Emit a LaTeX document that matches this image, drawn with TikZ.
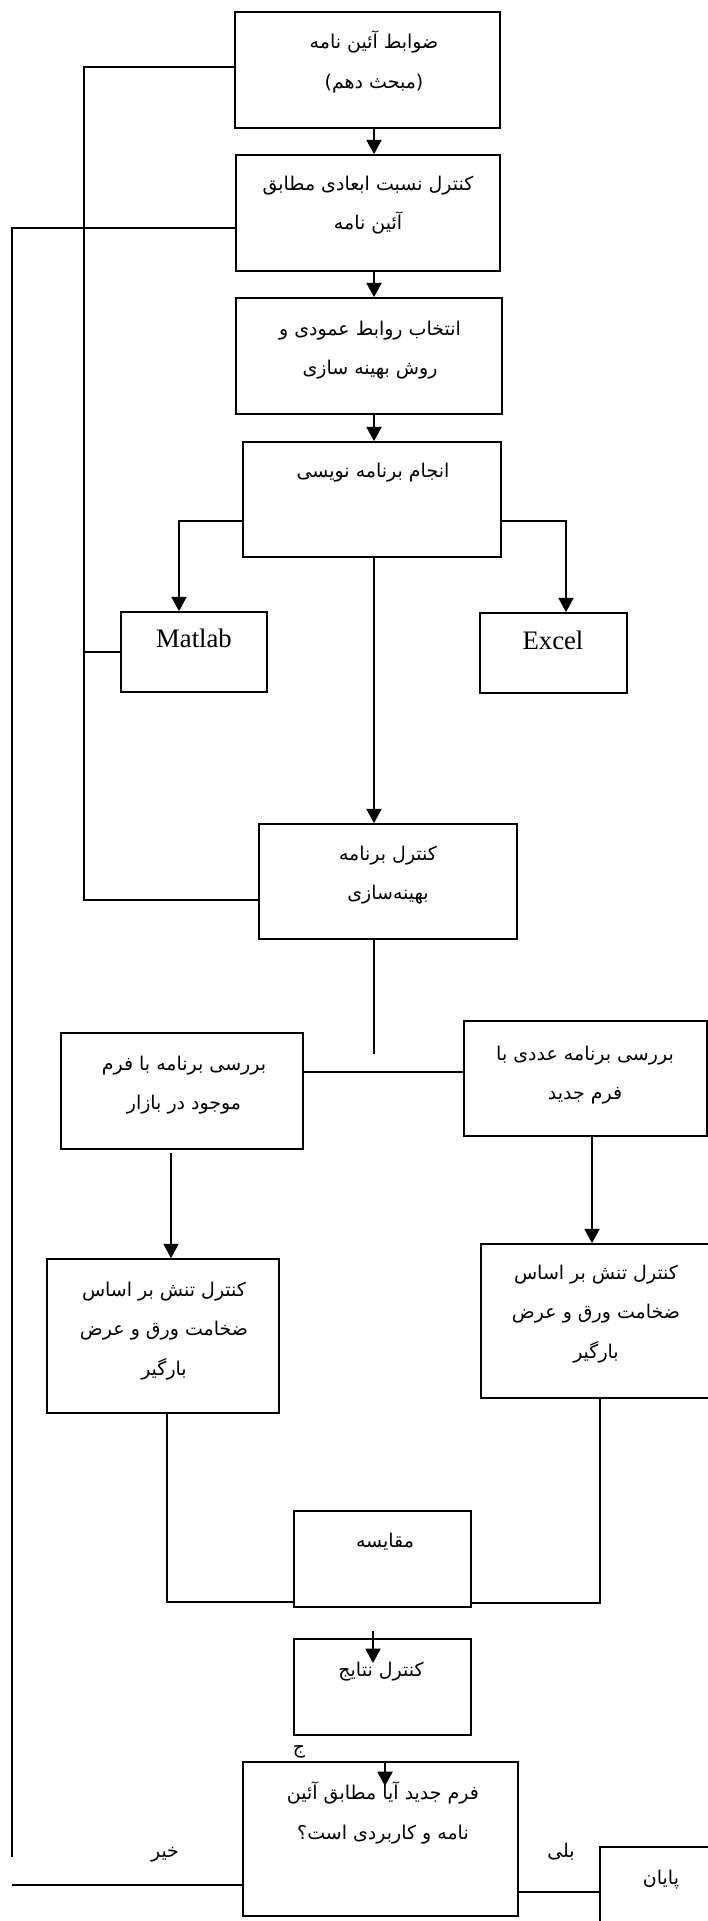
\documentclass[tikz,border=0pt]{standalone}
\usepackage{fontspec}
\setmainfont{Liberation Serif}
\newfontfamily\farsi[Script=Arabic]{DejaVu Sans}
\TeXXeTstate=1
\usetikzlibrary{arrows.meta}
\usetikzlibrary{fit}
\newcommand{\fa}[1]{{\farsi\beginR #1\endR}}

\begin{document}
\begin{tikzpicture}[x=0.25mm, y=-0.25mm, line width=1.2pt,
    >={Triangle[length=3.6mm,width=3.8mm]},
    box/.style={draw, inner sep=0pt},
    txt/.style={align=center, font=\fontsize{13.5}{28}\selectfont},
    lat/.style={font=\fontsize{19}{23}\selectfont}]
  \useasboundingbox (0,0) rectangle (708,1921);

  % boxes
  \node[box, fit={(235,12) (500,128)}] (rules) {};
  \node[box, fit={(236,155) (500,271)}] (ratio) {};
  \node[box, fit={(236,298) (502,414)}] (select) {};
  \node[box, fit={(243,442) (501,557)}] (coding) {};
  \node[box, fit={(121,612) (267,692)}] (matlab) {};
  \node[box, fit={(480,613) (627,693)}] (excel) {};
  \node[box, fit={(259,824) (517,939)}] (check) {};
  \node[box, fit={(61,1033) (303,1149)}] (market) {};
  \node[box, fit={(464,1021) (707,1136)}] (numeric) {};
  \node[box, fit={(47,1259) (279,1413)}] (stressL) {};
  \node[box, fit={(481,1244) (714,1398)}] (stressR) {};
  \node[box, fit={(294,1511) (471,1607)}] (compare) {};
  \node[box, fit={(294,1639) (471,1735)}] (results) {};
  \node[box, fit={(243,1762) (518,1916)}] (decide) {};
  \node[box, fit={(600,1847) (714,1930)}] (finish) {};

  % texts
  \node[txt] (rulesT) at (374,62) {\fa{ضوابط آئین نامه}\\\fa{(مبحث دهم)}};
  \node[txt] (ratioT) at (368,205) {\fa{کنترل نسبت ابعادی مطابق}\\\fa{آئین نامه}};
  \node[txt] (selectT) at (370,350) {\fa{انتخاب روابط عمودی و}\\\fa{روش بهینه سازی}};
  \node[txt] (codingT) at (373,473) {\fa{انجام برنامه نویسی}};
  \node[lat] (matlabT) at (194,638) {Matlab};
  \node[lat] (excelT) at (553,640) {Excel};
  \node[txt] (checkT) at (388,875) {\fa{کنترل برنامه}\\\fa{بهینه‌سازی}};
  \node[txt] (marketT) at (184,1085) {\fa{بررسی برنامه با فرم}\\\fa{موجود در بازار}};
  \node[txt] (numericT) at (585,1075) {\fa{بررسی برنامه عددی با}\\\fa{فرم جدید}};
  \node[txt] (stressLT) at (164,1331) {\fa{کنترل تنش بر اساس}\\\fa{ضخامت ورق و عرض}\\\fa{بارگیر}};
  \node[txt] (stressRT) at (596,1314) {\fa{کنترل تنش بر اساس}\\\fa{ضخامت ورق و عرض}\\\fa{بارگیر}};
  \node[txt] (compareT) at (385,1542) {\fa{مقایسه}};
  \node[txt] (resultsT) at (381,1672) {\fa{کنترل نتایج}};
  \node[txt] (jim) at (299,1752) {\fa{ج}};
  \node[txt] (decideT) at (383,1813) {\fa{فرم جدید آیا مطابق آئین}\\\fa{نامه و کاربردی است؟}};
  \node[txt] (noT) at (165,1855) {\fa{خیر}};
  \node[txt] (yesT) at (561,1852) {\fa{بلی}};
  \node[txt] (finishT) at (661,1880) {\fa{پایان}};

  % main column
  \coordinate (spine) at (374,0);
  \draw[->] (rules.south -| spine) -- (ratio.north -| spine);
  \draw[->] (ratio.south -| spine) -- (select.north -| spine);
  \draw[->] (select.south -| spine) -- (coding.north -| spine);
  \draw[->] (coding.south -| spine) -- (check.north -| spine);
  \coordinate (checkEnd) at (374,1054);
  \draw (check.south -| spine) -- (checkEnd);

  % to Matlab and Excel
  \coordinate (toMatlab) at (179,521);
  \coordinate (toExcel) at (566,521);
  \draw[->] (coding.west |- toMatlab) -- (toMatlab) -- (toMatlab |- matlab.north);
  \draw[->] (coding.east |- toExcel) -- (toExcel) -- (toExcel |- excel.north);

  % left bus
  \coordinate (busTop) at (84,67);
  \coordinate (busBot) at (84,900);
  \draw (rules.west |- busTop) -- (busTop) -- (busBot) -- (check.west |- busBot);
  \draw (matlab.west) -- (matlab.west -| busTop);

  % far left line
  \coordinate (farTop) at (12,228);
  \coordinate (farBot) at (12,1857);
  \coordinate (noEnd) at (12,1885);
  \draw (ratio.west |- farTop) -- (farTop) -- (farBot);
  \draw (decide.west |- noEnd) -- (noEnd);

  % two checks
  \coordinate (link) at (0,1072);
  \draw (market.east |- link) -- (numeric.west |- link);
  \coordinate (mktDown) at (171,1153);
  \coordinate (numDown) at (592,1136);
  \draw[->] (mktDown) -- (mktDown |- stressL.north);
  \draw[->] (numDown) -- (numDown |- stressR.north);

  % to compare
  \coordinate (cmpL) at (167,1602);
  \coordinate (cmpR) at (600,1603);
  \draw (stressL.south -| cmpL) -- (cmpL) -- (compare.west |- cmpL);
  \draw (stressR.south -| cmpR) -- (cmpR) -- (compare.east |- cmpR);

  % results and decision
  \coordinate (resIn) at (373,1631);
  \coordinate (resTip) at (373,1663);
  \draw[->] (resIn) -- (resTip);
  \coordinate (decIn) at (385,1761);
  \coordinate (decTip) at (385,1786);
  \draw[->] (decIn) -- (decTip);
  \coordinate (yesLn) at (0,1892);
  \draw (decide.east |- yesLn) -- (finish.west |- yesLn);
\end{tikzpicture}
\end{document}
